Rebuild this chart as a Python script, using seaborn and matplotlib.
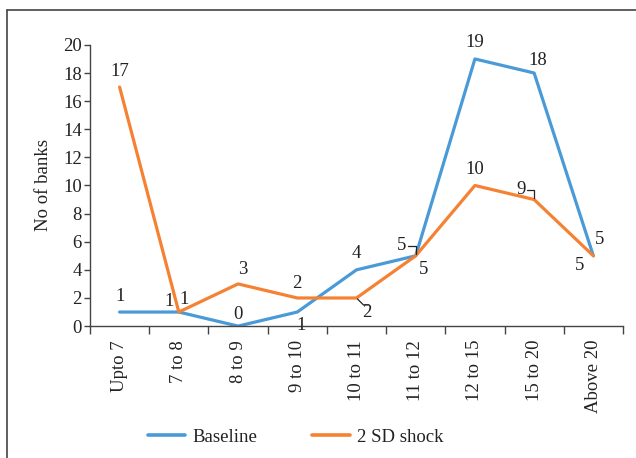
import pandas as pd
import matplotlib.pyplot as plt
import seaborn as sns
from matplotlib.ticker import FixedLocator
from matplotlib.lines import Line2D

# categories and series
buckets = ['Upto 7', '7 to 8', '8 to 9', '9 to 10', '10 to 11',
           '11 to 12', '12 to 15', '15 to 20', 'Above 20']
baseline = [1, 1, 0, 1, 4, 5, 19, 18, 5]
shock = [17, 1, 3, 2, 2, 5, 10, 9, 5]

df = pd.DataFrame({'bucket': buckets * 2,
                   'banks': baseline + shock,
                   'scenario': ['Baseline'] * len(buckets) + ['2 SD shock'] * len(buckets)})

sns.set_style('white')
plt.rcParams['font.family'] = ['Liberation Serif', 'DejaVu Serif']
txt = '#222222'
blue = '#4b9ad8'
orange = '#f58233'
fs = 13.5

fig = plt.figure(figsize=(6.36, 4.58), dpi=100)
ax = fig.add_axes([0.1415, 0.288, 0.838, 0.614])
sns.lineplot(data=df, x='bucket', y='banks', hue='scenario', sort=False,
             palette={'Baseline': blue, '2 SD shock': orange},
             linewidth=2.3, legend=False, ax=ax)

ax.set_xlim(-0.5, len(buckets) - 0.5)
ax.set_ylim(0, 20)
ax.set_yticks(range(0, 21, 2))
ax.set_xlabel('')
ax.set_ylabel('No of banks', fontsize=fs, color=txt, labelpad=8)
ax.tick_params(axis='y', direction='out', length=4, width=1, color='#444444',
               labelsize=fs, labelcolor=txt, pad=2, left=True)
ax.tick_params(axis='x', which='major', length=0, labelsize=fs,
               labelcolor=txt, rotation=90, pad=10)
ax.xaxis.set_minor_locator(FixedLocator([i - 0.5 for i in range(len(buckets) + 1)]))
ax.tick_params(axis='x', which='minor', direction='out', length=6, width=1,
               color='#444444', bottom=True)
for s in ['top', 'right']:
    ax.spines[s].set_visible(False)
for s in ['left', 'bottom']:
    ax.spines[s].set_color('#444444')
    ax.spines[s].set_linewidth(1)

# data label offsets in pixels: (dx, dy, leader style)
base_lab = [(0, 16, None), (-10, 11, None), (0, 12, None),
            (4, -13, None), (0, 16, None), (-14, 10, 'down'),
            (0, 16, None), (4, 13, None), (6, 16, None)]
shock_lab = [(0, 16, None), (5, 13, None), (5, 14, None),
             (0, 14, None), (10, -15, 'diag'), (8, -14, None),
             (0, 16, None), (-13, 10, 'down'), (-14, -10, None)]


def put(series, labs):
    for i, v in enumerate(series):
        dx, dy, lead = labs[i]
        ax.annotate(str(v), (i, v), xytext=(dx, dy), textcoords='offset pixels',
                    ha='center', va='center', fontsize=fs, color=txt,
                    annotation_clip=False)
        if lead == 'down':
            ax.annotate('', (i, v), xytext=(dx + 6, dy), textcoords='offset pixels',
                        arrowprops=dict(arrowstyle='-', color='#222222', lw=0.9,
                                        shrinkA=0, shrinkB=1,
                                        connectionstyle='angle,angleA=0,angleB=90,rad=0'))
        elif lead == 'diag':
            ax.annotate('', (i, v), xytext=(dx + 2, dy + 8), textcoords='offset pixels',
                        arrowprops=dict(arrowstyle='-', color='#222222', lw=0.9,
                                        shrinkA=0, shrinkB=1,
                                        connectionstyle='angle,angleA=0,angleB=-45,rad=0'))


put(baseline, base_lab)
put(shock, shock_lab)

handles = [Line2D([], [], color=blue, lw=2.6), Line2D([], [], color=orange, lw=2.6)]
fig.legend(handles, ['Baseline', '2 SD shock'], loc='center', bbox_to_anchor=(0.465, 0.045),
           ncol=2, frameon=False, fontsize=fs, handlelength=2.0, columnspacing=2.9,
           handletextpad=0.4, labelcolor=txt)

# outer frame lines (top and left)
fig.add_artist(Line2D([0.011, 0.011], [0, 0.978], color='#444444', lw=1.2,
                      transform=fig.transFigure))
fig.add_artist(Line2D([0.011, 1.0], [0.978, 0.978], color='#444444', lw=1.2,
                      transform=fig.transFigure))

fig.savefig('out.png', dpi=100)
